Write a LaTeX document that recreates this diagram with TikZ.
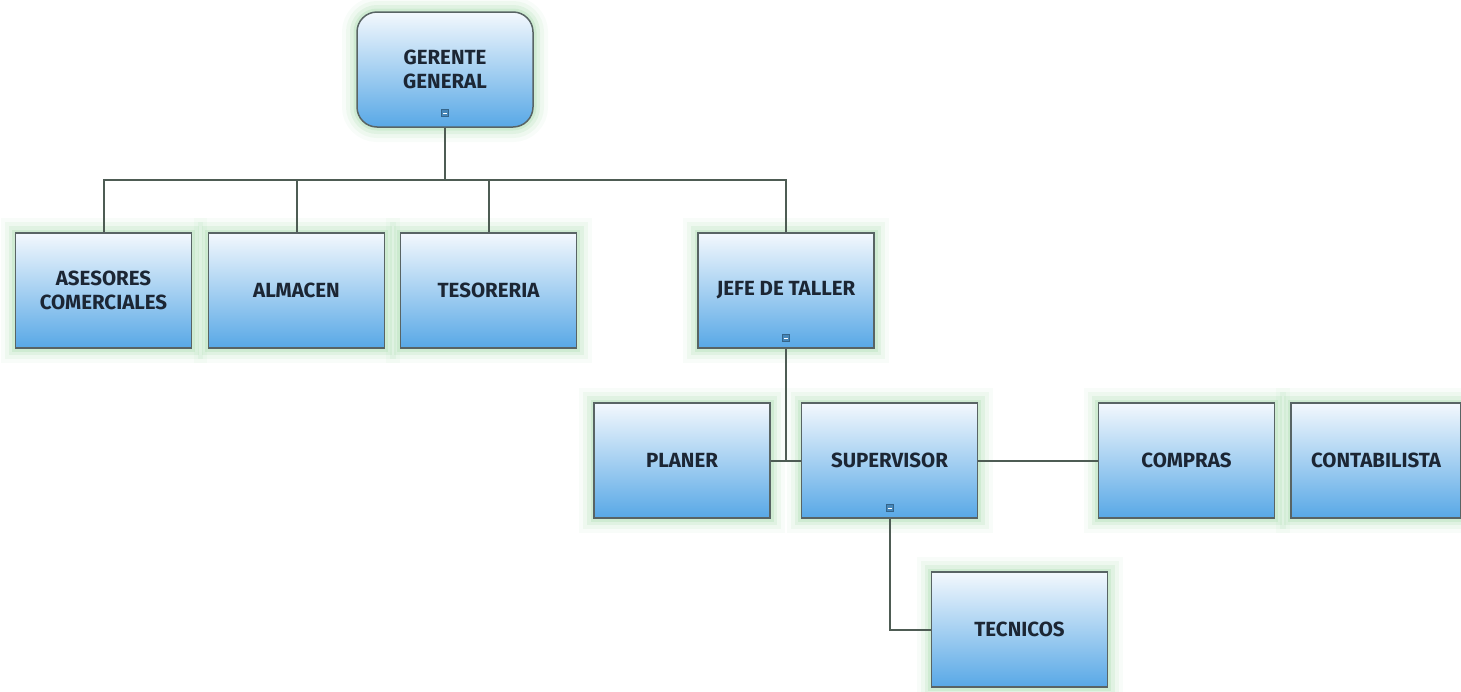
\documentclass[tikz,border=0pt]{standalone}
\usepackage{fontspec}
\setmainfont{Fira Sans}
\usepackage{tikz}
\definecolor{cajaarriba}{RGB}{243, 248, 253}
\definecolor{cajaabajo}{RGB}{88, 168, 230}
\definecolor{borde}{RGB}{88, 100, 100}
\definecolor{linea}{RGB}{78, 92, 84}
\definecolor{brillo}{RGB}{120, 200, 130}
\definecolor{texto}{RGB}{28, 38, 52}
\usetikzlibrary{positioning}

\begin{document}
\begin{tikzpicture}[x=1pt, y=-1pt,
	caja/.style={draw=borde, line width=1.5pt, top color=cajaarriba, bottom color=cajaabajo,
		minimum width=176pt, minimum height=115pt, align=center, inner sep=2pt,
		font=\fontsize{20.5}{24}\selectfont\bfseries, text=texto,
		preaction={draw=brillo, line width=30pt, opacity=0.05},
		preaction={draw=brillo, line width=22pt, opacity=0.08},
		preaction={draw=brillo, line width=14pt, opacity=0.12},
		preaction={draw=brillo, line width=7pt, opacity=0.16}},
	menos/.style={draw=cajaabajo!60!black, fill=cajaabajo!80!black, minimum size=7pt, inner sep=0pt,
		path picture={\draw[white, line width=1pt] ([xshift=1.5pt]path picture bounding box.west) -- ([xshift=-1.5pt]path picture bounding box.east);}},
	conector/.style={draw=linea, line width=2pt}]
	% Rahmen
	\useasboundingbox (0,0) rectangle (1461,691);
	% Cajas
	\node[caja, rounded corners=20pt] (gerente) at (445,69.5) {GERENTE\\GENERAL};
	\node[caja] (asesores) at (103.5,290.5) {ASESORES\\COMERCIALES};
	\node[caja] (almacen) at (296.5,290.5) {ALMACEN};
	\node[caja] (tesoreria) at (488.5,290.5) {TESORERIA};
	\node[caja] (jefe) at (786,290.5) {JEFE DE TALLER};
	\node[caja] (planer) at (682,460.5) {PLANER};
	\node[caja] (supervisor) at (889.5,460.5) {SUPERVISOR};
	\node[caja] (compras) at (1186.5,460.5) {COMPRAS};
	\node[caja, minimum width=170pt] (contabilista) at (1376,460.5) {CONTABILISTA};
	\node[caja] (tecnicos) at (1019.5,629.5) {TECNICOS};
	% Knoten zum Einklappen
	\node[menos] (mgerente) at (445,113) {};
	\node[menos] (mjefe) at (786,338) {};
	\node[menos] (msupervisor) at (889.5,508) {};
	% Verbindungen
	\coordinate (bus) at (445,180);
	\coordinate (cruce) at (786,460.5);
	\draw[conector] (gerente) -- (bus);
	\foreach \n in {asesores, almacen, tesoreria, jefe}
		\draw[conector] (\n.north) |- (bus);
	\draw[conector] (jefe) -- (cruce);
	\draw[conector] (planer) -- (supervisor);
	\draw[conector] (supervisor) -- (compras);
	\draw[conector] (supervisor.south) |- (tecnicos.west);
\end{tikzpicture}
\end{document}
